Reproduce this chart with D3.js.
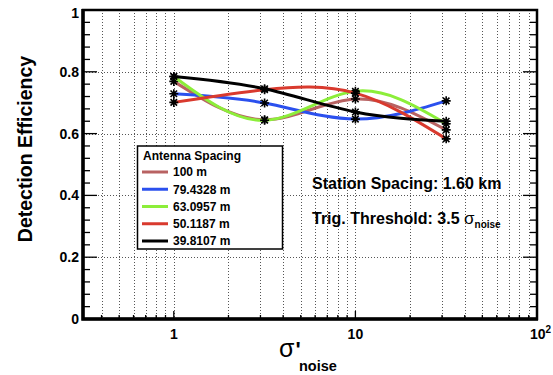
<!DOCTYPE html>
<html>
<head>
<meta charset="utf-8">
<script src="https://cdn.jsdelivr.net/npm/d3@7"></script>
<style>
  body { margin: 0; background: #fff; }
  text { font-family: "Liberation Sans", Arial, sans-serif; font-weight: bold; }
</style>
</head>
<body>
<div id="chart"></div>
<script>
// sigma'_noise values where each curve was sampled
const sigmaNoise = [1, 3.162, 10, 31.62]

// detection efficiency per antenna spacing
const eff100 = [0.769, 0.645, 0.712, 0.612]
const eff79 = [0.729, 0.699, 0.647, 0.706]
const eff63 = [0.785, 0.643, 0.737, 0.632]
const eff50 = [0.701, 0.742, 0.731, 0.583]
const eff39 = [0.785, 0.745, 0.670, 0.640]

const spacingLabels = ['100 m', '79.4328 m', '63.0957 m', '50.1187 m', '39.8107 m']
const lineColors = ['#b86262', '#2b50ee', '#8cee3a', '#d93a2e', '#000000']

const yTicks = [0, 0.2, 0.4, 0.6, 0.8, 1]
const yTickLabels = ['0', '0.2', '0.4', '0.6', '0.8', '1']
const xMajor = [1, 10, 100]
const xMinor = [0.4, 0.5, 0.6, 0.7, 0.8, 0.9, 2, 3, 4, 5, 6, 7, 8, 9, 20, 30, 40, 50, 60, 70, 80, 90]

const allSeries = [eff100, eff79, eff63, eff50, eff39]

const width = 553
const height = 375
const frame = { left: 83, right: 537, top: 10, bottom: 319 }

const svg = d3.select('#chart')
  .append('svg')
  .attr('width', width)
  .attr('height', height)

const x = d3.scaleLog()
  .domain([0.3162, 100])
  .range([frame.left, frame.right])

const y = d3.scaleLinear()
  .domain([0, 1])
  .range([frame.bottom, frame.top])

// grid
const grid = svg.append('g')
  .attr('stroke', '#555')
  .attr('stroke-width', 1)
  .attr('stroke-dasharray', '1,2')

grid.selectAll('.vgrid')
  .data(xMinor.concat([1, 10]))
  .enter()
  .append('line')
  .attr('x1', d => Math.round(x(d)) + 0.5)
  .attr('x2', d => Math.round(x(d)) + 0.5)
  .attr('y1', frame.top)
  .attr('y2', frame.bottom)

grid.selectAll('.hgrid')
  .data([0.2, 0.4, 0.6, 0.8])
  .enter()
  .append('line')
  .attr('x1', frame.left)
  .attr('x2', frame.right)
  .attr('y1', d => Math.round(y(d)) + 0.5)
  .attr('y2', d => Math.round(y(d)) + 0.5)

// ticks
const ticks = svg.append('g').attr('stroke', '#000').attr('stroke-width', 1.3)
const yMinor = d3.range(0, 1.0001, 0.04)

ticks.selectAll('.yl')
  .data(yMinor)
  .enter()
  .append('line')
  .attr('x1', frame.left)
  .attr('x2', (d, i) => frame.left + (i % 5 === 0 ? 14 : 7))
  .attr('y1', d => y(d))
  .attr('y2', d => y(d))

ticks.selectAll('.yr')
  .data(yMinor)
  .enter()
  .append('line')
  .attr('x1', frame.right)
  .attr('x2', (d, i) => frame.right - (i % 5 === 0 ? 14 : 7))
  .attr('y1', d => y(d))
  .attr('y2', d => y(d))

ticks.selectAll('.xb')
  .data(xMinor.map(v => [v, 4]).concat(xMajor.map(v => [v, 8])))
  .enter()
  .append('line')
  .attr('x1', d => x(d[0]))
  .attr('x2', d => x(d[0]))
  .attr('y1', frame.bottom)
  .attr('y2', d => frame.bottom - d[1])

// curves
const line = d3.line()
  .x((_, i) => x(sigmaNoise[i]))
  .y(d => y(d))
  .curve(d3.curveNatural)

const star = (cx, cy, r) => {
  const a = r * 0.72
  return `M${cx - r},${cy}L${cx + r},${cy}M${cx},${cy - r}L${cx},${cy + r}` +
    `M${cx - a},${cy - a}L${cx + a},${cy + a}M${cx - a},${cy + a}L${cx + a},${cy - a}`
}

allSeries.forEach((series, k) => {
  svg.append('path')
    .datum(series)
    .attr('fill', 'none')
    .attr('stroke', lineColors[k])
    .attr('stroke-width', 3)
    .attr('d', line)

  svg.append('g')
    .selectAll('path')
    .data(series)
    .enter()
    .append('path')
    .attr('d', (d, i) => star(x(sigmaNoise[i]), y(d), 4.5))
    .attr('stroke', '#000')
    .attr('stroke-width', 1.6)
})

// frame
svg.append('rect')
  .attr('x', frame.left)
  .attr('y', frame.top)
  .attr('width', frame.right - frame.left)
  .attr('height', frame.bottom - frame.top)
  .attr('fill', 'none')
  .attr('stroke', '#000')
  .attr('stroke-width', 2.5)

svg.append('path')
  .attr('d', `M${frame.left},${frame.top - 1}V${frame.bottom}H${frame.right + 1}`)
  .attr('fill', 'none')
  .attr('stroke', '#000')
  .attr('stroke-width', 3.5)

// y tick labels
svg.append('g')
  .selectAll('text')
  .data(yTicks)
  .enter()
  .append('text')
  .attr('x', 79)
  .attr('y', d => y(d) + (d === 1 ? 3 : 0))
  .attr('dy', '0.36em')
  .attr('text-anchor', 'end')
  .attr('font-size', 14)
  .text((d, i) => yTickLabels[i])

// x tick labels
const xl = svg.append('g').attr('font-size', 14)
xl.append('text').attr('x', x(1)).attr('y', 339).attr('text-anchor', 'middle').text('1')
xl.append('text').attr('x', x(10)).attr('y', 339).attr('text-anchor', 'middle').text('10')
const hundred = xl.append('text').attr('x', x(100) - 7).attr('y', 339)
hundred.append('tspan').text('10')
hundred.append('tspan').attr('dy', -6).attr('font-size', 10).text('2')

// axis titles
svg.append('text')
  .attr('transform', 'translate(32, 149) rotate(-90)')
  .attr('text-anchor', 'middle')
  .attr('font-size', 19.5)
  .text('Detection Efficiency')

const xt = svg.append('text').attr('x', 279).attr('y', 357)
xt.append('tspan').attr('font-size', 25).attr('font-weight', 'normal').text('σ')
xt.append('tspan').attr('font-size', 22).attr('dx', 1).text('\'')
svg.append('text')
  .attr('x', 299)
  .attr('y', 371)
  .attr('font-size', 14.5)
  .text('noise')

// legend
const legend = svg.append('g')
legend.append('rect')
  .attr('x', 137.5)
  .attr('y', 146)
  .attr('width', 145)
  .attr('height', 103)
  .attr('fill', '#fff')
  .attr('stroke', '#000')
  .attr('stroke-width', 1.5)

legend.append('text')
  .attr('x', 143)
  .attr('y', 160)
  .attr('font-size', 12)
  .text('Antenna Spacing')

const entryY = d3.scaleLinear().domain([0, 4]).range([172, 241])

spacingLabels.forEach((label, i) => {
  legend.append('line')
    .attr('x1', 142)
    .attr('x2', 168)
    .attr('y1', entryY(i))
    .attr('y2', entryY(i))
    .attr('stroke', lineColors[i])
    .attr('stroke-width', 3)
  legend.append('text')
    .attr('x', 173)
    .attr('y', entryY(i))
    .attr('dy', '0.36em')
    .attr('font-size', 12)
    .text(label)
})

// annotations
svg.append('text')
  .attr('x', 312)
  .attr('y', 189)
  .attr('font-size', 16)
  .text('Station Spacing: 1.60 km')

const trig = svg.append('text').attr('x', 312).attr('y', 224).attr('font-size', 16)
trig.append('tspan').text('Trig. Threshold: 3.5 ')
trig.append('tspan').attr('font-weight', 'normal').attr('font-size', 17).text('σ')
trig.append('tspan').attr('font-size', 10).attr('dy', 4).text('noise')
</script>
</body>
</html>
